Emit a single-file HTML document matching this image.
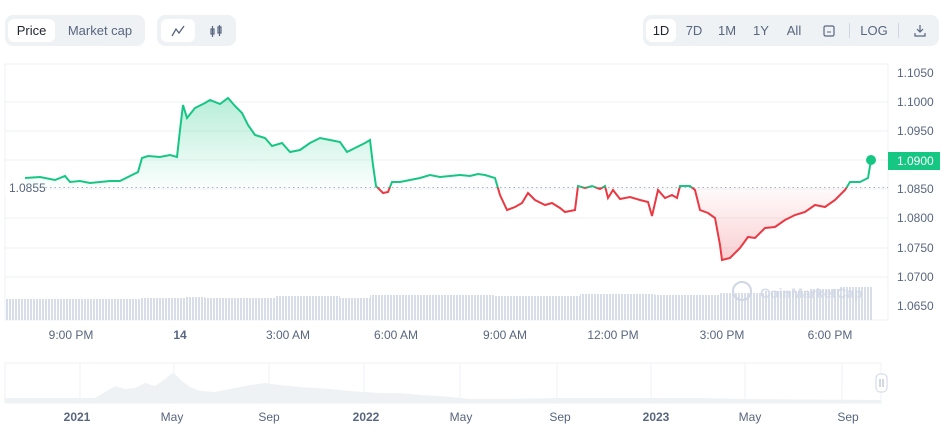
<!DOCTYPE html>
<html><head><meta charset="utf-8"><style>
body{margin:0;width:950px;height:437px;background:#fff;font-family:"Liberation Sans",sans-serif;overflow:hidden;position:relative}
.grp{position:absolute;top:15px;height:31px;background:#eff2f5;border-radius:8px}
.btn{position:absolute;top:4px;height:23px;line-height:23px;font-size:13px;color:#58667e;text-align:center}
.act{background:#fff;border-radius:6px;color:#222531}
</style></head><body>
<div class="grp" style="left:5px;width:140px">
<div class="btn act" style="left:3px;width:47px">Price</div>
<div class="btn" style="left:55px;width:80px">Market cap</div></div>
<div class="grp" style="left:157px;width:79px">
<div class="btn act" style="left:4px;width:34px"><svg width="14" height="14" viewBox="0 0 14 14" style="margin-top:5px"><path d="M1 12 L5 5 L8 9 L13 2" stroke="#58667e" stroke-width="1.3" fill="none"/></svg></div>
<div class="btn" style="left:42px;width:34px"><svg width="14" height="14" viewBox="0 0 14 14" style="margin-top:5px"><g stroke="#58667e" fill="none" stroke-width="1.2"><rect x="2" y="5" width="3" height="5"/><line x1="3.5" y1="2" x2="3.5" y2="13"/><rect x="9" y="3" width="3" height="6"/><line x1="10.5" y1="1" x2="10.5" y2="12"/></g></svg></div></div>
<div class="grp" style="left:643px;width:296px">
<div class="btn act" style="left:3px;width:30px">1D</div>
<div class="btn" style="left:37px;width:28px">7D</div>
<div class="btn" style="left:70px;width:28px">1M</div>
<div class="btn" style="left:104px;width:28px">1Y</div>
<div class="btn" style="left:137px;width:28px">All</div>
<div class="btn" style="left:172px;width:28px"><svg width="12" height="13" viewBox="0 0 12 13" style="margin-top:5px"><rect x="1" y="2" width="10" height="10" rx="1.5" stroke="#58667e" fill="none" stroke-width="1.2"/><line x1="4" y1="8" x2="8" y2="8" stroke="#58667e"/></svg></div>
<div style="position:absolute;left:206px;top:8px;width:1px;height:15px;background:#cfd6e4"></div>
<div class="btn" style="left:214px;width:34px">LOG</div>
<div style="position:absolute;left:255px;top:8px;width:1px;height:15px;background:#cfd6e4"></div>
<div class="btn" style="left:264px;width:26px"><svg width="12" height="13" viewBox="0 0 12 13" style="margin-top:5px"><path d="M6 1V8M3 5L6 8L9 5M1 9V12H11V9" stroke="#58667e" fill="none" stroke-width="1.2"/></svg></div></div>

<svg width="950" height="437" style="position:absolute;left:0;top:0">
<defs>
<pattern id="vb" width="3" height="40" patternUnits="userSpaceOnUse"><rect x="0" y="0" width="2" height="40" fill="#d8dee9"/></pattern>
<clipPath id="up2"><rect x="0" y="0" width="950" height="187.5"/></clipPath>
<clipPath id="dn2"><rect x="0" y="187.5" width="950" height="200"/></clipPath>
<linearGradient id="g2" x1="0" y1="100" x2="0" y2="187" gradientUnits="userSpaceOnUse"><stop offset="0" stop-color="#16c784" stop-opacity="0.3"/><stop offset="1" stop-color="#16c784" stop-opacity="0.02"/></linearGradient>
<linearGradient id="r2" x1="0" y1="187" x2="0" y2="262" gradientUnits="userSpaceOnUse"><stop offset="0" stop-color="#ea3943" stop-opacity="0.02"/><stop offset="1" stop-color="#ea3943" stop-opacity="0.25"/></linearGradient>
<path id="pp" d="M25 178 L40 177 L55 180 L65 176 L70 182 L80 181 L90 183 L100 182 L110 181 L120 181 L128 177 L138 172 L142 158 L148 156 L160 157 L170 155 L177 157 L180 130 L183 105 L187 118 L195 108 L205 103 L210 100 L220 104 L228 98 L235 106 L242 113 L248 125 L255 135 L265 138 L272 146 L282 143 L290 152 L300 150 L310 143 L320 138 L330 140 L340 142 L347 152 L355 148 L365 143 L370 140 L373 165 L376 186 L383 193 L388 192 L392 182 L400 182 L410 180 L420 178 L430 175 L440 177 L450 176 L460 175 L470 176 L478 174 L485 175 L495 178 L500 195 L507 210 L515 207 L522 203 L528 193 L535 200 L545 205 L552 203 L560 208 L565 212 L575 210 L578 186 L585 188 L592 186 L600 189 L605 186 L608 198 L613 190 L620 199 L630 197 L640 200 L648 202 L652 216 L658 190 L665 198 L672 195 L677 198 L680 186 L690 186 L695 190 L700 210 L708 213 L715 218 L720 245 L722 260 L730 258 L740 248 L748 237 L755 238 L765 228 L775 227 L785 220 L795 215 L805 212 L815 205 L825 207 L835 200 L845 190 L850 182 L860 182 L868 178 L871 160" fill="none"/>
</defs>
<g stroke="#eff2f5" stroke-width="1">
<line x1="5" y1="64" x2="888" y2="64"/>
<line x1="5" y1="102" x2="888" y2="102"/><line x1="5" y1="131" x2="888" y2="131"/><line x1="5" y1="160" x2="888" y2="160"/><line x1="5" y1="189" x2="888" y2="189"/><line x1="5" y1="218" x2="888" y2="218"/><line x1="5" y1="248" x2="888" y2="248"/><line x1="5" y1="277" x2="888" y2="277"/><line x1="5" y1="320" x2="888" y2="320"/>
<line x1="5" y1="64" x2="5" y2="320"/><line x1="888" y1="64" x2="888" y2="320"/>
</g>
<g fill="#58667e" font-size="12">
<text x="897" y="77">1.1050</text><text x="897" y="106">1.1000</text><text x="897" y="135">1.0950</text><text x="897" y="193">1.0850</text><text x="897" y="222">1.0800</text><text x="897" y="252">1.0750</text><text x="897" y="281">1.0700</text><text x="897" y="310">1.0650</text>
</g>
<g fill="url(#vb)">
<rect x="5" y="299" width="135" height="21"/><rect x="140" y="298" width="45" height="22"/><rect x="185" y="297" width="20" height="23"/><rect x="205" y="298" width="70" height="22"/><rect x="275" y="296" width="65" height="24"/><rect x="340" y="298" width="30" height="22"/><rect x="370" y="295" width="125" height="25"/><rect x="495" y="296" width="85" height="24"/><rect x="580" y="294" width="75" height="26"/><rect x="655" y="295" width="65" height="25"/><rect x="720" y="293" width="45" height="27"/><rect x="765" y="291" width="45" height="29"/><rect x="810" y="289" width="30" height="31"/><rect x="840" y="287" width="32" height="33"/>
</g>
<text x="760" y="298" fill="#cfd6e4" font-size="14" font-weight="bold" opacity="0.8">CoinMarketCap</text>
<circle cx="742" cy="291" r="9" fill="none" stroke="#cfd6e4" stroke-width="2"/>
<line x1="5" y1="187.5" x2="888" y2="187.5" stroke="#a6b0c3" stroke-dasharray="1.5 3"/>
<rect x="5" y="181" width="40" height="14" fill="#fff"/>
<text x="9" y="192" fill="#58667e" font-size="12">1.0855</text>
<g clip-path="url(#up2)"><path d="M25 187.5 L25 178 L40 177 L55 180 L65 176 L70 182 L80 181 L90 183 L100 182 L110 181 L120 181 L128 177 L138 172 L142 158 L148 156 L160 157 L170 155 L177 157 L180 130 L183 105 L187 118 L195 108 L205 103 L210 100 L220 104 L228 98 L235 106 L242 113 L248 125 L255 135 L265 138 L272 146 L282 143 L290 152 L300 150 L310 143 L320 138 L330 140 L340 142 L347 152 L355 148 L365 143 L370 140 L373 165 L376 186 L376 187.5Z" fill="url(#g2)"/>
<use href="#pp" stroke="#16c784" stroke-width="2"/></g>
<g clip-path="url(#dn2)"><path d="M695 187.5 L695 190 L700 210 L708 213 L715 218 L720 245 L722 260 L730 258 L740 248 L748 237 L755 238 L765 228 L775 227 L785 220 L795 215 L805 212 L815 205 L825 207 L835 200 L845 190 L848 187.5Z" fill="url(#r2)"/>
<use href="#pp" stroke="#ea3943" stroke-width="2"/></g>
<circle cx="871" cy="160" r="5" fill="#16c784"/>
<rect x="888" y="152" width="52" height="18" fill="#16c784"/>
<text x="897" y="165" fill="#fff" font-size="12">1.0900</text>
<g fill="#58667e" font-size="12">
<text x="71" y="339" text-anchor="middle">9:00 PM</text><text x="180" y="339" text-anchor="middle" font-weight="bold">14</text><text x="288" y="339" text-anchor="middle">3:00 AM</text><text x="396" y="339" text-anchor="middle">6:00 AM</text><text x="505" y="339" text-anchor="middle">9:00 AM</text><text x="613" y="339" text-anchor="middle">12:00 PM</text><text x="722" y="339" text-anchor="middle">3:00 PM</text><text x="830" y="339" text-anchor="middle">6:00 PM</text>
</g>
<rect x="5" y="363" width="876" height="40" fill="none" stroke="#eff2f5"/>
<g stroke="#eff2f5"><line x1="80" y1="363" x2="80" y2="403"/><line x1="174" y1="363" x2="174" y2="403"/><line x1="269" y1="363" x2="269" y2="403"/><line x1="364" y1="363" x2="364" y2="403"/><line x1="460" y1="363" x2="460" y2="403"/><line x1="557" y1="363" x2="557" y2="403"/><line x1="651" y1="363" x2="651" y2="403"/><line x1="745" y1="363" x2="745" y2="403"/><line x1="842" y1="363" x2="842" y2="403"/></g>
<path d="M5 403 L5 398 L95 398 L105 392 L115 386 L125 389 L135 388 L145 383 L155 386 L165 379 L172 373 L176 375 L183 382 L190 387 L200 391 L215 392 L230 389 L250 385 L265 383 L280 385 L300 387 L330 389 L350 391 L380 393 L400 393 L420 395 L440 396 L470 399 L500 399 L560 398 L650 398 L700 398 L745 399 L881 400 L881 403Z" fill="#eff2f5"/>
<rect x="876" y="374" width="11" height="18" rx="4" fill="#fff" stroke="#cfd6e4"/>
<line x1="880" y1="379" x2="880" y2="387" stroke="#a6b0c3"/><line x1="883" y1="379" x2="883" y2="387" stroke="#a6b0c3"/>
<g fill="#58667e" font-size="12">
<text x="77" y="421" text-anchor="middle" font-weight="bold">2021</text><text x="172" y="421" text-anchor="middle">May</text><text x="269" y="421" text-anchor="middle">Sep</text><text x="366" y="421" text-anchor="middle" font-weight="bold">2022</text><text x="461" y="421" text-anchor="middle">May</text><text x="560" y="421" text-anchor="middle">Sep</text><text x="656" y="421" text-anchor="middle" font-weight="bold">2023</text><text x="750" y="421" text-anchor="middle">May</text><text x="848" y="421" text-anchor="middle">Sep</text>
</g>
</svg>
</body></html>
